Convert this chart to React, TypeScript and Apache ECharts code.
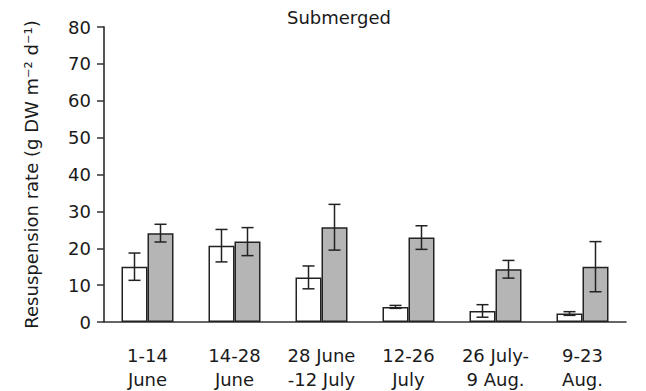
import React, { useEffect, useRef } from "react";
import * as echarts from "echarts";

const categories = ["1-14\nJune", "14-28\nJune", "28 June\n-12 July", "12-26\nJuly", "26 July-\n9 Aug.", "9-23\nAug."];
const whiteMeans = [15.0, 20.7, 12.1, 4.1, 3.0, 2.3];
const whiteErrors = [3.7, 4.4, 3.1, 0.4, 1.7, 0.5];
const greyMeans = [24.1, 21.8, 25.7, 22.9, 14.3, 15.0];
const greyErrors = [2.4, 3.8, 6.2, 3.2, 2.4, 6.8];
const yTicks = [0, 10, 20, 30, 40, 50, 60, 70, 80];

const FONT = "DejaVu Sans";
const BAR_W = 26;

function errorSeries(means: number[], errs: number[], side: number) {
  return {
    type: "custom",
    z: 5,
    data: means.map((m, i) => [i, m, errs[i]]),
    encode: { x: 0, y: 1 },
    renderItem: (params: any, api: any) => {
      const i = api.value(0);
      const m = api.value(1);
      const e = api.value(2);
      const top = api.coord([i, m + e]);
      const bot = api.coord([i, m - e]);
      const x = top[0] + (side * BAR_W) / 2;
      const cap = 6;
      const style = { stroke: "#222", lineWidth: 1.5 };
      return {
        type: "group",
        children: [
          { type: "line", shape: { x1: x, y1: top[1], x2: x, y2: bot[1] }, style },
          { type: "line", shape: { x1: x - cap, y1: top[1], x2: x + cap, y2: top[1] }, style },
          { type: "line", shape: { x1: x - cap, y1: bot[1], x2: x + cap, y2: bot[1] }, style },
        ],
      };
    },
  };
}

export default function App() {
  const ref = useRef<HTMLDivElement>(null);
  useEffect(() => {
    const chart = echarts.init(ref.current!, undefined, { renderer: "svg" });
    chart.setOption({
      animation: false,
      textStyle: { fontFamily: FONT },
      title: {
        text: "Submerged",
        left: 282,
        top: 3,
        textStyle: { fontFamily: FONT, fontSize: 18, fontWeight: "normal", color: "#1a1a1a" },
      },
      grid: { left: 104, right: 20, top: 27, bottom: 67 },
      xAxis: {
        type: "category",
        data: categories,
        axisLine: { lineStyle: { color: "#333", width: 1.5 } },
        axisTick: { length: 6, lineStyle: { color: "#333", width: 1.5 } },
        axisLabel: { interval: 0, fontFamily: FONT, fontSize: 18, color: "#1a1a1a", lineHeight: 24, margin: 21 },
      },
      yAxis: {
        type: "value",
        min: yTicks[0],
        max: yTicks[yTicks.length - 1],
        interval: 10,
        splitLine: { show: false },
        axisLine: { show: true, lineStyle: { color: "#555", width: 2 } },
        axisTick: { show: true, length: 7, lineStyle: { color: "#333", width: 1.5 } },
        axisLabel: { fontFamily: FONT, fontSize: 18, color: "#1a1a1a", margin: 13 },
        name: "Resuspension rate (g DW m⁻² d⁻¹)",
        nameLocation: "middle",
        nameGap: 64,
        nameTextStyle: { fontFamily: FONT, fontSize: 18, color: "#1a1a1a" },
      },
      series: [
        {
          type: "bar",
          data: whiteMeans,
          barWidth: BAR_W,
          barGap: "0%",
          itemStyle: { color: "#ffffff", borderColor: "#222", borderWidth: 1.5 },
        },
        {
          type: "bar",
          data: greyMeans,
          barWidth: BAR_W,
          barGap: "0%",
          itemStyle: { color: "#b5b5b5", borderColor: "#222", borderWidth: 1.5 },
        },
        errorSeries(whiteMeans, whiteErrors, -1),
        errorSeries(greyMeans, greyErrors, 1),
      ],
    });
    return () => chart.dispose();
  }, []);
  return <div ref={ref} style={{ width: 646, height: 391, position: "absolute", left: 0, top: 0, background: "#fff" }} />;
}
